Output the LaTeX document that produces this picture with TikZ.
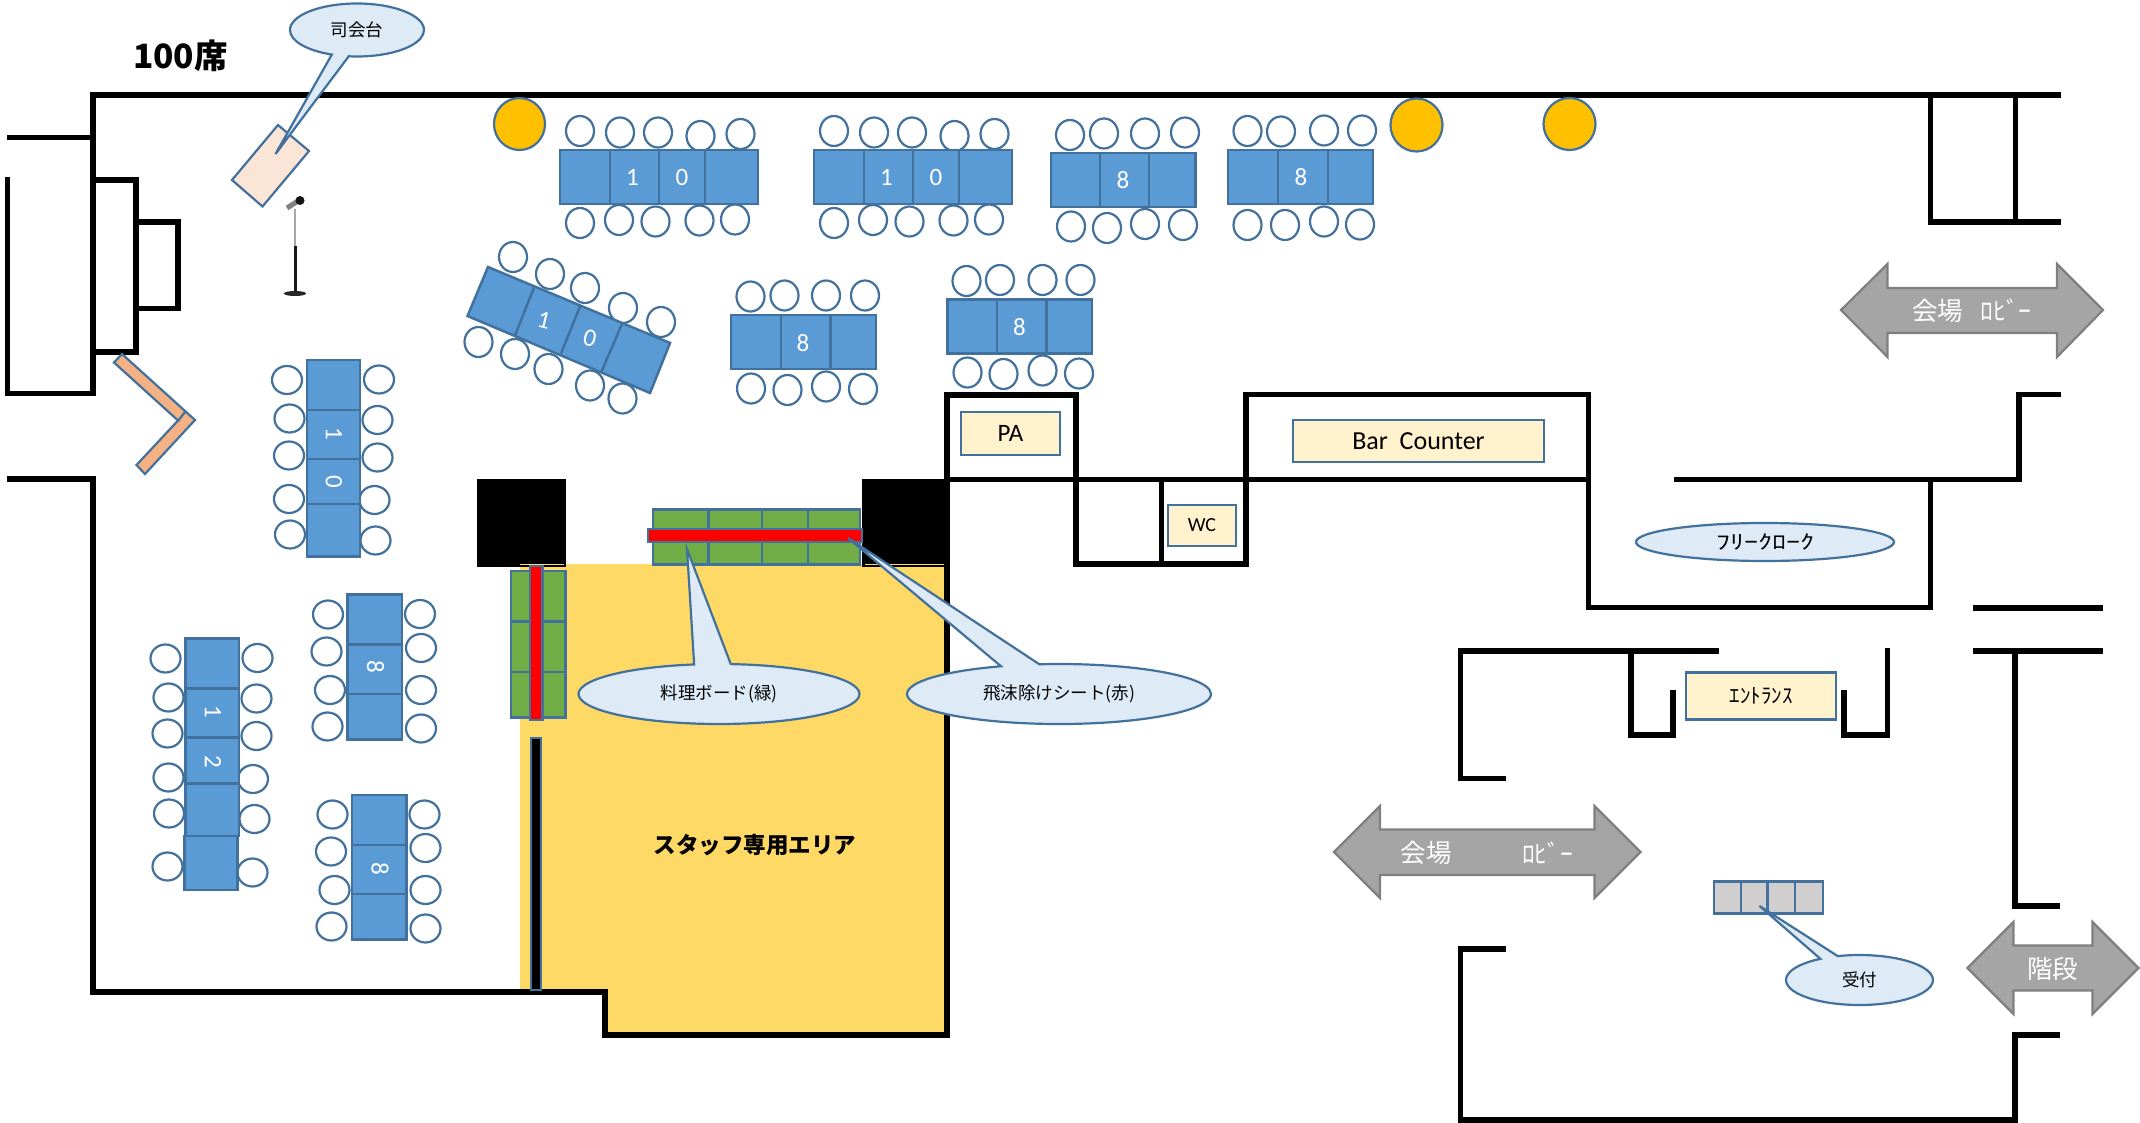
\documentclass[tikz,border=0pt]{standalone}
\usepackage{fontspec}
\setmainfont{Carlito}
\newfontfamily\jpfont{Noto Sans CJK JP}
\usetikzlibrary{shapes.geometric,shapes.callouts}
\definecolor{edgeblue}{HTML}{41719C}
\definecolor{tableblue}{HTML}{5B9BD5}
\definecolor{noteblue}{HTML}{DEEAF6}
\definecolor{staffyellow}{HTML}{FFD966}
\definecolor{boardgreen}{HTML}{70AD47}
\definecolor{pillaryellow}{HTML}{FFC000}
\definecolor{roomcream}{HTML}{FFF2CC}
\definecolor{screenorange}{HTML}{F4B183}
\definecolor{podiumpeach}{HTML}{FBE5D6}
\definecolor{deskgray}{HTML}{D0CECE}
\definecolor{arrowgray}{HTML}{A5A5A5}
\definecolor{arrowedge}{HTML}{7F7F7F}
\tikzset{
  wall/.style={line width=5.5pt,line cap=rect,line join=miter},
  tablebox/.style={draw=edgeblue,fill=tableblue,line width=2.5pt},
  chair/.style={draw=edgeblue,fill=white,line width=2.2pt},
  tablenum/.style={text=white,font=\fontsize{25}{25}\selectfont},
  boardbox/.style={draw=edgeblue,fill=boardgreen,line width=2.2pt},
  sheetbar/.style={draw=edgeblue,fill=red,line width=2.2pt},
  pillar/.style={draw=edgeblue,fill=pillaryellow,line width=2.2pt},
  roomlabel/.style={draw=edgeblue,fill=roomcream,line width=2.2pt,inner sep=0pt,text=black},
  note/.style={ellipse callout,draw=edgeblue,fill=noteblue,line width=2.2pt,inner sep=0pt,
    font=\jpfont\fontsize{17.5}{18}\selectfont},
  grayarrow/.style={draw=arrowedge,fill=arrowgray,line width=2.2pt,line join=miter},
  arrowtext/.style={text=white,font=\jpfont\fontsize{25.5}{26}\selectfont}
}
\begin{document}
\begin{tikzpicture}[x=1pt,y=-1pt]
\useasboundingbox (0,0) rectangle (2140,1123);

% Staff area
\fill[staffyellow] (520,564) -- (947,564) -- (947,1035) -- (605,1035) -- (605,992) -- (520,992) -- cycle;

% Pillars in black
\fill[black] (477,479) rectangle (566,567);
\fill[black] (862,479) rectangle (947,567);
\draw[staffyellow,line width=1pt] (520,564.5) -- (564,564.5);
\draw[staffyellow,line width=1pt] (865,564.5) -- (947,564.5);

% Hall walls
\draw[wall] (9.5,137.5) -- (93,137.5);
\draw[wall] (2058,95) -- (93,95) -- (93,393);
\draw[wall] (7.5,180) -- (7.5,393.5) -- (93,393.5);
\draw[wall] (93,180) -- (136,180) -- (136,352) -- (93,352);
\draw[wall] (136,222) -- (178,222) -- (178,308.5) -- (136,308.5);
\draw[wall] (9.5,479) -- (93,479) -- (93,992) -- (605,992) -- (605,1035) -- (947,1035) -- (947,479.5);

% Rooms on the back side
\draw[wall] (947,479.5) -- (1588,479.5);
\draw[wall] (947,479.5) -- (947,395) -- (1076,395) -- (1076,564) -- (1246,564) -- (1246,394.5) -- (1588.5,394.5) -- (1588.5,607.5) -- (1930.5,607.5) -- (1930.5,479.5);
\draw[wall] (1161.5,479.5) -- (1161.5,564);
\draw[wall] (1677,479.5) -- (2019,479.5) -- (2019,394.5) -- (2058,394.5);
\draw[wall] (1930.5,95) -- (1930.5,222);
\draw[wall] (2015.5,95) -- (2015.5,222);
\draw[wall] (1930.5,222) -- (2058,222);

% Lobby walls
\draw[wall] (1976,608) -- (2100,608);
\draw[wall] (2100,651) -- (1976,651);
\draw[wall] (2015,651) -- (2015,906) -- (2057,906);
\draw[wall] (1716,651) -- (1460.5,651) -- (1460.5,778.5) -- (1503,778.5);
\draw[wall] (1631,651) -- (1631,735) -- (1673,735) -- (1673,693);
\draw[wall] (1887.5,651) -- (1887.5,735) -- (1844,735) -- (1844,693);
\draw[wall] (1503,949) -- (1460.5,949) -- (1460.5,1120) -- (2015,1120) -- (2015,1035) -- (2057,1035);

% Orange folding screen
\draw[draw=edgeblue,fill=screenorange,line width=2.2pt] (122,354) -- (195,420) -- (145,474) -- (136.5,465) -- (178,420.5) -- (114,362.5) -- cycle;
\draw[edgeblue,line width=2.2pt] (185,412) -- (178,421);

% Podium and microphone
\draw[draw=edgeblue,fill=podiumpeach,line width=2.2pt] (278,125) -- (309,151) -- (262.5,206.5) -- (232,180) -- cycle;
\draw[gray!70,line width=2.5pt] (295,209) -- (295,246);
\draw[gray!20!black,line width=3pt] (295,246) -- (295,292);
\fill[gray!30!black] (295,293.5) ellipse (11 and 2.5);
\draw[gray,line width=5pt] (287,208) -- (298,201);
\fill[gray!15!black] (300,200.5) circle (4.5);

% Yellow columns
\draw[pillar] (519.5,124) ellipse (25.5 and 26);
\draw[pillar] (1416.5,125) ellipse (26 and 26.5);
\draw[pillar] (1569.5,124) ellipse (26 and 26);

% Table of 10, first
\foreach \x/\y in {580/131,620/132.5,658/132.5,700.5/136,740.5/134,580/223,619/220,655.5/221.5,699.5/220.5,735/219.5}
  \draw[chair] (\x,\y) ellipse (14 and 15);
\draw[tablebox] (560,150) rectangle (758,204);
\foreach \x in {610,659,705}
  \draw[tablebox] (\x,150) -- (\x,204);
\node[tablenum] (tena1) at (632.5,177) {1};
\node[tablenum] (tena0) at (682,177) {0};

% Table of 10, second
\foreach \x/\y in {834/131,874/132.5,912/132.5,954.5/136,994.5/134,834/223,873/220,909.5/221.5,953.5/220.5,989/219.5}
  \draw[chair] (\x,\y) ellipse (14 and 15);
\draw[tablebox] (814,150) rectangle (1012,204);
\foreach \x in {864,913,959}
  \draw[tablebox] (\x,150) -- (\x,204);
\node[tablenum] (tenb1) at (886.5,177) {1};
\node[tablenum] (tenb0) at (936,177) {0};

% Table of 8, top row
\foreach \x/\y in {1070/135,1104/133.5,1145/133.5,1185/132.5,1071/226.5,1107/228,1145/224,1183/225}
  \draw[chair] (\x,\y) ellipse (14 and 15);
\draw[tablebox] (1051,153) rectangle (1195.5,207);
\foreach \x in {1100,1149}
  \draw[tablebox] (\x,153) -- (\x,207);
\node[tablenum] (eighta) at (1123,180) {8};

\foreach \x/\y in {1247.5/131,1281/131.5,1324/130.5,1362/130.5,1247.5/225,1285/225,1324/221.5,1360/224.5}
  \draw[chair] (\x,\y) ellipse (14 and 15);
\draw[tablebox] (1228,150) rectangle (1373,204);
\foreach \x in {1278,1328}
  \draw[tablebox] (\x,150) -- (\x,204);
\node[tablenum] (eightb) at (1301,177) {8};

% Slanted table of 10
\foreach \x/\y in {513/257,550/274,585/288,623/308,661/322,478.5/342,515/354,548.5/369,590/385.5,622.5/398.5}
  \draw[chair] (\x,\y) ellipse (14 and 15);
\draw[tablebox] (488,267) -- (670,343) -- (650,393) -- (467.5,316) -- cycle;
\draw[tablebox] (534,287.5) -- (515,335.5);
\draw[tablebox] (580,306.5) -- (561,353.5);
\draw[tablebox] (622,324) -- (601.5,371.5);
\node[tablenum,rotate=-14] (tenc1) at (544,320.5) {1};
\node[tablenum,rotate=-14] (tenc0) at (590,338.5) {0};

% Tables of 8, middle row
\foreach \x/\y in {750.5/296.5,784.5/295.5,826/295.5,865/295.5,751/388.5,787.5/390,826/386.5,863/389}
  \draw[chair] (\x,\y) ellipse (14 and 15);
\draw[tablebox] (731,315) rectangle (876,369);
\foreach \x in {781,830.5}
  \draw[tablebox] (\x,315) -- (\x,369);
\node[tablenum] (eightc) at (803,343) {8};

\foreach \x/\y in {966.5/281,1000/280,1042.5/280,1080.5/280,967.5/372.5,1003.5/374,1042.5/370.5,1079/373.5}
  \draw[chair] (\x,\y) ellipse (14 and 15);
\draw[tablebox] (947.5,299.5) rectangle (1092,353.5);
\foreach \x in {997,1046.5}
  \draw[tablebox] (\x,299.5) -- (\x,353.5);
\node[tablenum] (eightd) at (1019.5,327) {8};

% Upright table of 10
\foreach \x/\y in {287/380,289.5/418.5,289/455.5,289/499,290/534.5,379/379.5,377.5/420,377.5/457.5,374.5/500,375.5/540.5}
  \draw[chair] (\x,\y) ellipse (15 and 14);
\draw[tablebox] (307,360) rectangle (360,556.5);
\foreach \y in {410,459,504}
  \draw[tablebox] (307,\y) -- (360,\y);
\node[tablenum,rotate=-90] (tend1) at (334,434) {1};
\node[tablenum,rotate=-90] (tend0) at (334,481.5) {0};

% Upright table of 12
\foreach \x/\y in {165.5/658.5,168.5/697.5,167.5/733.5,168.5/777.5,169/813.5,167.5/866.5,257.5/658,256.5/698.5,256.5/736,253/779,254.5/819,252.5/872.5}
  \draw[chair] (\x,\y) ellipse (15 and 14);
\draw[tablebox] (185.5,638.5) rectangle (239,836);
\draw[tablebox] (184.5,836) rectangle (237.5,890);
\foreach \y in {688.5,737.5,783.5}
  \draw[tablebox] (185.5,\y) -- (239,\y);
\node[tablenum,rotate=-90] (twelve1) at (213,711.5) {1};
\node[tablenum,rotate=-90] (twelve2) at (213,761.5) {2};

% Upright tables of 8
\foreach \x/\y in {328/614.5,326.5/651.5,330/690,327.5/726.5,420/614,421/648,421/690,421/728.5}
  \draw[chair] (\x,\y) ellipse (15 and 14);
\draw[tablebox] (347.5,594.5) rectangle (402,739.5);
\foreach \y in {644.5,694}
  \draw[tablebox] (347.5,\y) -- (402,\y);
\node[tablenum,rotate=-90] (eighte) at (375.5,666.5) {8};

\foreach \x/\y in {332.5/814.5,331/851.5,334.5/890,331.5/926.5,424.5/814.5,425.5/848,425.5/890,425.5/928.5}
  \draw[chair] (\x,\y) ellipse (15 and 14);
\draw[tablebox] (352,795) rectangle (406.5,939.5);
\foreach \y in {845,894}
  \draw[tablebox] (352,\y) -- (406.5,\y);
\node[tablenum,rotate=-90] (eightf) at (380,868.5) {8};

% Food boards, green, with their red sheets
\draw[boardbox] (653,509.5) rectangle (860,564.5);
\foreach \x in {708.5,762,808}
  \draw[boardbox] (\x,509.5) -- (\x,564.5);
\draw[sheetbar] (648,529) rectangle (862,542);
\draw[boardbox] (511,571) rectangle (565.5,717.5);
\foreach \y in {621.5,672}
  \draw[boardbox] (511,\y) -- (565.5,\y);
\draw[sheetbar] (530,566) rectangle (542.5,720);
\draw[draw=edgeblue,fill=black,line width=2pt] (531,738) rectangle (540.5,990);

% Room labels
\node[roomlabel,minimum width=99pt,minimum height=43pt,font=\fontsize{25}{25}\selectfont] (pa) at (1010.5,433.5) {PA};
\node[roomlabel,minimum width=251pt,minimum height=42pt,font=\fontsize{26}{26}\selectfont] (bar) at (1418.5,441) {Bar\ \ Counter};
\node[roomlabel,minimum width=68.5pt,minimum height=41pt,font=\fontsize{20}{20}\selectfont] (wc) at (1202,525.5) {WC};
\node[roomlabel,minimum width=150pt,minimum height=47pt,font=\jpfont\fontsize{21}{21}\selectfont] (entrance) at (1761,696) {ｴﾝﾄﾗﾝｽ};
\node[draw=edgeblue,fill=noteblue,line width=2.2pt,ellipse,inner sep=0pt,minimum width=258pt,minimum height=38pt,font=\jpfont\fontsize{20}{20}\selectfont] (cloak) at (1765,542) {\scalebox{1.4}[1]{ﾌﾘｰｸﾛｰｸ}};

% Reception desk
\draw[draw=edgeblue,fill=deskgray,line width=2.2pt] (1714,881.5) rectangle (1823,913.5);
\foreach \x in {1741,1767.5,1795}
  \draw[edgeblue,line width=2.2pt] (\x,881.5) -- (\x,913.5);

% Big double arrows
\draw[grayarrow] (1841,310) -- (1887.5,264) -- (1887.5,288) -- (2057,288) -- (2057,264) -- (2103,310) -- (2057,357) -- (2057,333) -- (1887.5,333) -- (1887.5,357) -- cycle;
\node[arrowtext] (lobbya) at (1972,311) {会場\ \ \ ﾛﾋﾞｰ};
\draw[grayarrow] (1334,852) -- (1380,806) -- (1380,829.5) -- (1594.5,829.5) -- (1594.5,806) -- (1640.5,852) -- (1594.5,898) -- (1594.5,875) -- (1380,875) -- (1380,898) -- cycle;
\node[arrowtext] (halla) at (1426,853) {会場};
\node[arrowtext] (lobbyb) at (1547.5,853) {ﾛﾋﾞｰ};
\draw[grayarrow] (1967.5,968) -- (2013.5,922) -- (2013.5,945.5) -- (2092.5,945.5) -- (2092.5,922) -- (2138.5,968) -- (2092.5,1014) -- (2092.5,990.5) -- (2013.5,990.5) -- (2013.5,1014) -- cycle;
\node[arrowtext] (stairs) at (2052.5,969) {階段};

% Callouts
\node[note,minimum width=134pt,minimum height=53pt,callout absolute pointer={(275.5,154)}] (mc) at (357,30) {\raisebox{-1pt}{司会台}};
\node[note,minimum width=281pt,minimum height=60pt,callout absolute pointer={(687,549)}] (food) at (719,694) {料理ボード(緑)};
\node[note,minimum width=304pt,minimum height=60pt,callout absolute pointer={(848,538)}] (shield) at (1059,694) {飛沫除けシート(赤)};
\node[note,minimum width=147pt,minimum height=50pt,callout absolute pointer={(1759.5,906)}] (desk) at (1859.5,980) {\raisebox{-1pt}{受付}};

% Titles
\node[font=\jpfont\bfseries\fontsize{33.5}{34}\selectfont] (seats) at (180.5,56) {100席};
\node[font=\jpfont\bfseries\fontsize{22.5}{23}\selectfont] (staff) at (755,845) {スタッフ専用エリア};
\end{tikzpicture}
\end{document}
